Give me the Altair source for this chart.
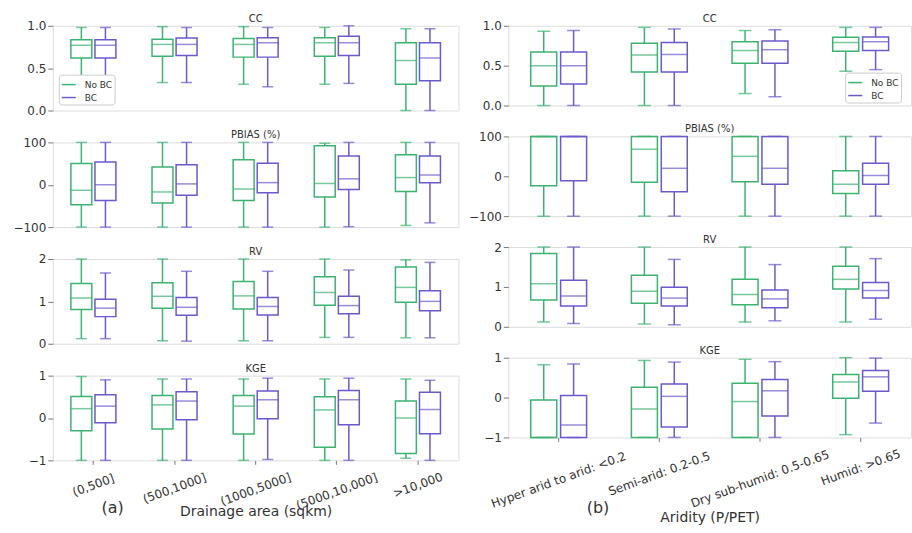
import altair as alt
import pandas as pd

SERIES = ["No BC", "BC"]
COLORS = ["#3CB371", "#6A5ACD"]

AREA_CLASSES = ["(0,500]", "(500,1000]", "(1000,5000]", "(5000,10,000]", ">10,000"]
ARIDITY_CLASSES = ["Hyper arid to arid: <0.2", "Semi-arid: 0.2-0.5",
                   "Dry sub-humid: 0.5-0.65", "Humid: >0.65"]

# Box-plot summaries per class: lower whisker, Q1, median, Q3, upper whisker
# ---- (a) drainage area ----
AREA_CC_NOBC = {"lo": [0.36, 0.33, 0.31, 0.31, 0.0], "q1": [0.62, 0.64, 0.63, 0.64, 0.31],
                "med": [0.77, 0.78, 0.78, 0.80, 0.59], "q3": [0.835, 0.84, 0.85, 0.86, 0.80],
                "hi": [0.98, 0.99, 0.99, 0.98, 0.965]}
AREA_CC_BC = {"lo": [0.34, 0.33, 0.28, 0.32, 0.0], "q1": [0.62, 0.65, 0.63, 0.65, 0.35],
              "med": [0.77, 0.78, 0.80, 0.80, 0.62], "q3": [0.835, 0.855, 0.86, 0.875, 0.80],
              "hi": [0.98, 0.98, 0.98, 1.0, 0.965]}
AREA_PBIAS_NOBC = {"lo": [-100, -100, -100, -100, -96], "q1": [-47, -43, -37, -29, -16],
                   "med": [-13, -17, -10, 3, 17], "q3": [50, 42, 59, 92, 71],
                   "hi": [100, 100, 100, 98, 100]}
AREA_PBIAS_BC = {"lo": [-100, -100, -100, -99, -90], "q1": [-37, -25, -19, -11, 5],
                 "med": [0, 2, 5, 14, 23], "q3": [54, 47, 51, 68, 68],
                 "hi": [100, 100, 100, 100, 100]}
AREA_RV_NOBC = {"lo": [0.12, 0.07, 0.07, 0.15, 0.14], "q1": [0.81, 0.84, 0.82, 0.91, 0.98],
                "med": [1.08, 1.12, 1.13, 1.21, 1.33], "q3": [1.42, 1.44, 1.47, 1.58, 1.81],
                "hi": [2.0, 2.0, 2.0, 2.0, 1.98]}
AREA_RV_BC = {"lo": [0.12, 0.06, 0.07, 0.15, 0.14], "q1": [0.64, 0.67, 0.68, 0.71, 0.78],
              "med": [0.84, 0.86, 0.88, 0.90, 1.0], "q3": [1.05, 1.09, 1.09, 1.12, 1.25],
              "hi": [1.67, 1.71, 1.71, 1.74, 1.92]}
AREA_KGE_NOBC = {"lo": [-1, -1, -1, -1, -0.95], "q1": [-0.30, -0.26, -0.38, -0.69, -0.84],
                 "med": [0.22, 0.31, 0.28, 0.19, 0.0], "q3": [0.51, 0.53, 0.53, 0.50, 0.40],
                 "hi": [0.98, 0.92, 0.92, 0.92, 0.92]}
AREA_KGE_BC = {"lo": [-1, -1, -0.98, -1, -1], "q1": [-0.11, -0.04, -0.02, -0.16, -0.37],
               "med": [0.28, 0.40, 0.43, 0.43, 0.20], "q3": [0.55, 0.62, 0.64, 0.65, 0.61],
               "hi": [0.90, 0.92, 0.94, 0.94, 0.89]}

# ---- (b) aridity ----
ARID_CC_NOBC = {"lo": [0.0, 0.0, 0.15, 0.43], "q1": [0.245, 0.42, 0.53, 0.68],
                "med": [0.50, 0.635, 0.69, 0.79], "q3": [0.67, 0.78, 0.80, 0.855],
                "hi": [0.93, 0.98, 0.94, 0.98]}
ARID_CC_BC = {"lo": [0.0, 0.0, 0.11, 0.45], "q1": [0.27, 0.42, 0.53, 0.69],
              "med": [0.50, 0.64, 0.70, 0.80], "q3": [0.67, 0.79, 0.81, 0.86],
              "hi": [0.94, 0.96, 0.95, 0.98]}
ARID_PBIAS_NOBC = {"lo": [-100, -100, -100, -100], "q1": [-24, -15, -14, -43],
                   "med": [100, 68, 50, -20], "q3": [100, 100, 100, 14],
                   "hi": [100, 100, 100, 100]}
ARID_PBIAS_BC = {"lo": [-100, -100, -100, -100], "q1": [-11, -39, -20, -20],
                 "med": [100, 20, 20, 2], "q3": [100, 100, 100, 33],
                 "hi": [100, 100, 100, 100]}
ARID_RV_NOBC = {"lo": [0.12, 0.07, 0.12, 0.12], "q1": [0.67, 0.59, 0.55, 0.95],
                "med": [1.08, 0.89, 0.81, 1.19], "q3": [1.84, 1.29, 1.19, 1.52],
                "hi": [2.0, 2.0, 2.0, 2.0]}
ARID_RV_BC = {"lo": [0.08, 0.05, 0.15, 0.19], "q1": [0.52, 0.52, 0.48, 0.72],
              "med": [0.77, 0.72, 0.70, 0.91], "q3": [1.17, 0.99, 0.92, 1.11],
              "hi": [2.0, 1.69, 1.56, 1.71]}
ARID_KGE_NOBC = {"lo": [-1, -1, -1, -0.93], "q1": [-1, -1, -1, -0.02],
                 "med": [-1, -0.29, -0.10, 0.39], "q3": [-0.06, 0.26, 0.36, 0.58],
                 "hi": [0.82, 0.93, 0.96, 1.0]}
ARID_KGE_BC = {"lo": [-1, -1, -1, -0.64], "q1": [-1, -0.74, -0.46, 0.16],
               "med": [-0.69, 0.03, 0.17, 0.52], "q3": [0.05, 0.34, 0.45, 0.68],
               "hi": [0.84, 0.89, 0.90, 0.99]}

FONT = "DejaVu Sans"
TEXT = "#333333"
LW = 1.5


def summary_table(classes, nobc, bc):
    rows = []
    for name, stats in zip(SERIES, (nobc, bc)):
        for i, c in enumerate(classes):
            rows.append({"cat": c, "series": name, "lo": stats["lo"][i], "q1": stats["q1"][i],
                         "med": stats["med"][i], "q3": stats["q3"][i], "hi": stats["hi"][i]})
    return pd.DataFrame(rows)


def panel(classes, nobc, bc, title, domain, ticks, fmt, width, height, box_w, cap_w,
          legend=None, bottom=None):
    df = summary_table(classes, nobc, bc)

    if bottom is None:
        x_axis = None
    else:
        x_axis = alt.Axis(labels=False, domain=False, ticks=True, tickSize=4,
                          tickColor="#777777", title=bottom["title"], titleFontSize=14,
                          titleFontWeight="normal", titleColor=TEXT, titleFont=FONT,
                          titleBaseline="middle", titleY=bottom["title_y"])
    x_scale = alt.Scale(domain=classes, paddingInner=0, paddingOuter=0)
    x = alt.X("cat:N", sort=classes, scale=x_scale, axis=x_axis)
    x_off = alt.XOffset("series:N", sort=SERIES,
                        scale=alt.Scale(domain=SERIES, paddingInner=0.13, paddingOuter=0.75))
    if legend is None:
        leg = None
    else:
        leg = alt.Legend(title=None, orient="none", legendX=legend[0], legendY=legend[1],
                         symbolType="stroke", symbolStrokeWidth=LW, symbolSize=196,
                         labelFontSize=9, labelFont=FONT, labelColor=TEXT,
                         strokeColor="#cccccc", fillColor="white", padding=2,
                         cornerRadius=3, rowPadding=0, labelOffset=8)
    color = alt.Color("series:N", sort=SERIES,
                      scale=alt.Scale(domain=SERIES, range=COLORS), legend=leg)

    y_scale = alt.Scale(domain=domain, nice=False, zero=False)
    # tickCount keeps every listed value (the default count thins them on short panels)
    y_axis = alt.Axis(values=ticks, tickCount=len(ticks), format=fmt, grid=False,
                      domain=False, tickSize=5, tickColor="#777777", labelFontSize=12,
                      labelColor=TEXT, labelFont=FONT, labelPadding=2, labelOverlap=False,
                      minExtent=45, maxExtent=45, title=None)

    base = alt.Chart(df).encode(x=x, xOffset=x_off, color=color)
    lower = base.mark_rule(strokeWidth=LW).encode(
        y=alt.Y("lo:Q", scale=y_scale, axis=y_axis), y2="q1:Q")
    upper = base.mark_rule(strokeWidth=LW).encode(y="q3:Q", y2="hi:Q")
    box = base.mark_bar(filled=False, strokeWidth=LW).encode(y="q1:Q", y2="q3:Q")
    median = base.mark_tick(size=box_w, thickness=LW).encode(y="med:Q")
    cap_lo = base.mark_tick(size=cap_w, thickness=LW).encode(y="lo:Q")
    cap_hi = base.mark_tick(size=cap_w, thickness=LW).encode(y="hi:Q")
    layers = [lower, upper, box, median, cap_lo, cap_hi]

    if bottom is not None:
        # rotated class labels, centred under each tick like matplotlib's ha="center"
        labels = alt.Chart(pd.DataFrame({"cat": classes})).transform_calculate(
            ly=f"{height} + 12 + (length(datum.cat) * 6.1 * 0.342 + 11.3) / 2"
        ).mark_text(angle=340, align="center", baseline="middle", fontSize=12,
                    font=FONT, color=TEXT).encode(
            x=x, y=alt.Y("ly:Q", scale=None, axis=None), text="cat:N")
        tag = alt.Chart(pd.DataFrame({"t": [bottom["tag"]]})).mark_text(
            fontSize=16, font=FONT, color=TEXT, align="center", baseline="middle").encode(
            x=alt.value(bottom["tag_x"]), y=alt.value(height + bottom["tag_y"]), text="t:N")
        layers += [labels, tag]

    return alt.layer(*layers).properties(
        width=width, height=height,
        title=alt.TitleParams(title, fontSize=10, fontWeight="normal", offset=-4,
                              frame="group", color=TEXT, font=FONT))


LW_W, LW_H = 407, 85
RW_W, RW_H = 404, 80

left = alt.vconcat(
    panel(AREA_CLASSES, AREA_CC_NOBC, AREA_CC_BC, "CC", [0, 1], [0, 0.5, 1], ".1f",
          LW_W, LW_H, 21, 11, legend=(6, 49)),
    panel(AREA_CLASSES, AREA_PBIAS_NOBC, AREA_PBIAS_BC, "PBIAS (%)", [-100, 100],
          [-100, 0, 100], ".0f", LW_W, LW_H, 21, 11),
    panel(AREA_CLASSES, AREA_RV_NOBC, AREA_RV_BC, "RV", [0, 2], [0, 1, 2], ".0f",
          LW_W, LW_H, 21, 11),
    panel(AREA_CLASSES, AREA_KGE_NOBC, AREA_KGE_BC, "KGE", [-1, 1], [-1, 0, 1], ".0f",
          LW_W, LW_H, 21, 11,
          bottom={"title": "Drainage area (sqkm)", "title_y": 51, "tag": "(a)",
                  "tag_x": 60, "tag_y": 48}),
    spacing=12,
).resolve_scale(x="independent", y="independent", color="independent",
                xOffset="independent")

right = alt.vconcat(
    panel(ARIDITY_CLASSES, ARID_CC_NOBC, ARID_CC_BC, "CC", [0, 1], [0, 0.5, 1], ".1f",
          RW_W, RW_H, 26, 13, legend=(338, 47)),
    panel(ARIDITY_CLASSES, ARID_PBIAS_NOBC, ARID_PBIAS_BC, "PBIAS (%)", [-100, 100],
          [-100, 0, 100], ".0f", RW_W, RW_H, 26, 13),
    panel(ARIDITY_CLASSES, ARID_RV_NOBC, ARID_RV_BC, "RV", [0, 2], [0, 1, 2], ".0f",
          RW_W, RW_H, 26, 13),
    panel(ARIDITY_CLASSES, ARID_KGE_NOBC, ARID_KGE_BC, "KGE", [-1, 1], [-1, 0, 1], ".0f",
          RW_W, RW_H, 26, 13,
          bottom={"title": "Aridity (P/PET)", "title_y": 80, "tag": "(b)",
                  "tag_x": 90, "tag_y": 71}),
    spacing=11,
).resolve_scale(x="independent", y="independent", color="independent",
                xOffset="independent")

chart = alt.hconcat(left, right, spacing=3).resolve_scale(
    x="independent", y="independent", color="independent", xOffset="independent"
).properties(
    padding={"left": 7, "top": 12, "right": 0, "bottom": 0},
    background="white",
).configure_view(stroke="#888888", strokeWidth=1.2).configure(font=FONT)

chart.save("out.html", embed_options={"renderer": "svg", "actions": False})
